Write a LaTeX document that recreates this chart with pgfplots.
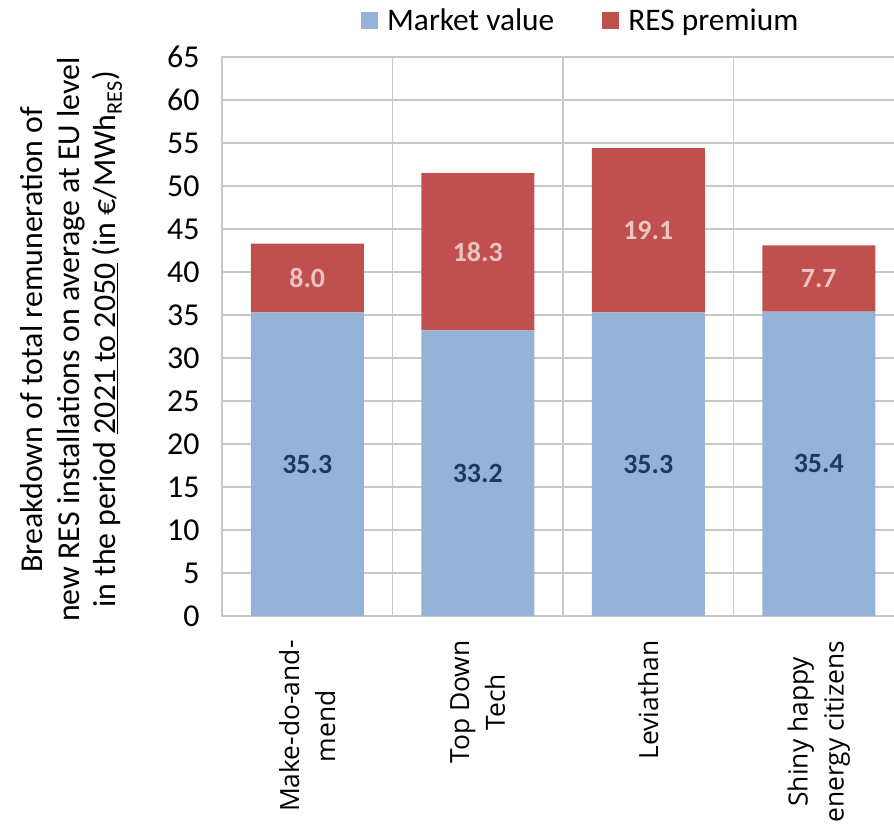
\documentclass[border=0pt]{standalone}
\usepackage{fontspec}
\setmainfont{Carlito}
\newfontfamily\osans{Open Sans}
\usepackage{pgfplots}
\pgfplotsset{compat=1.18}
\definecolor{mvblue}{HTML}{95B3D7}
\definecolor{rered}{HTML}{C0504D}
\definecolor{lblblue}{HTML}{1F3A5F}
\definecolor{lblred}{HTML}{EDC3C3}
\definecolor{gridgray}{HTML}{C8C8C8}
\begin{document}
\begin{tikzpicture}
\begin{axis}[
  name=ax,
  scale only axis,
  width=682bp, height=559bp,
  ybar stacked, bar width=113bp,
  xmin=-0.5, xmax=3.5, ymin=0, ymax=65,
  ytick={0,5,...,65},
  xtick={0,1,2,3},
  xticklabels={Make-do-and-\\mend, Top Down\\Tech, Leviathan, Shiny happy\\energy citizens},
  minor xtick={0.5,1.5,2.5},
  xminorgrids=true, ymajorgrids=true, xmajorgrids=false,
  major tick length=0pt, minor tick length=0pt,
  grid style={gridgray, line width=1.4bp},
  minor grid style={gridgray, line width=1.4bp},
  axis line style={gridgray, line width=1.4bp},
  /pgf/number format/assume math mode=true,
  yticklabel style={font=\fontsize{32}{38}\selectfont, anchor=east, xshift=-19bp},
  xticklabel style={font=\osans\fontsize{26.5}{36}\selectfont, rotate=90, anchor=east, align=center, xshift=-21bp},
  legend columns=2,
  legend style={draw=none, fill=none, at={(0.526,1.066)}, anchor=center,
    font=\fontsize{31.5}{36}\selectfont,
    /tikz/every odd column/.append style={column sep=7bp},
    /tikz/every even column/.append style={column sep=46bp},
    legend cell align=left},
  legend image code/.code={\fill[#1] (0bp,-8.5bp) rectangle (17bp,8.5bp);},
  point meta=rawy,
  nodes near coords={\pgfmathprintnumber[fixed,fixed zerofill,precision=1]{\pgfplotspointmeta}},
  every node near coord/.append style={anchor=center,
    font=\bfseries\fontsize{28}{32}\selectfont},
]
\addplot[fill=mvblue, draw=none, every node near coord/.append style={text=lblblue}]
  coordinates {(0,35.3) (1,33.2) (2,35.3) (3,35.4)};
\addplot[fill=rered, draw=none, every node near coord/.append style={text=lblred}]
  coordinates {(0,8.0) (1,18.3) (2,19.1) (3,7.7)};
\legend{Market value, RES premium}
\end{axis}
\node[rotate=90, align=center, font=\fontsize{32}{37}\selectfont] at ([xshift=-151bp,yshift=-3bp]ax.west)
  {Breakdown of total remuneration of\\new RES installations on average at EU level\\in the period \underline{2021 to 2050} (in €/MWh\textsubscript{RES})};
\pgfresetboundingbox
\path[use as bounding box] ([xshift=-222bp,yshift=-212bp]ax.south west) rectangle ([xshift=-10bp,yshift=57bp]ax.north east);
\end{tikzpicture}
\end{document}
